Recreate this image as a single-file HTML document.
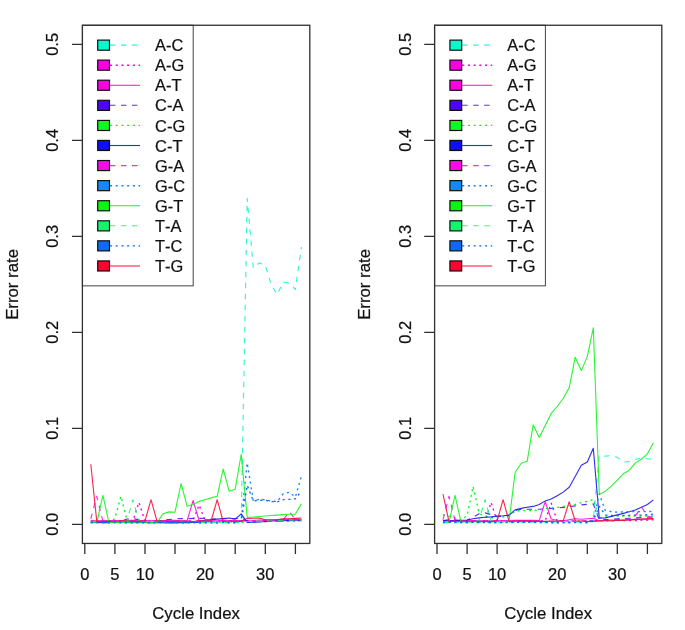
<!DOCTYPE html>
<html lang="en">
<head>
<meta charset="utf-8">
<title>Error rate by cycle index</title>
<style>html,body{margin:0;padding:0;background:#fff}svg{display:block;will-change:transform}</style>
</head>
<body>
<svg width="685" height="630" viewBox="0 0 685 630" font-family="Liberation Sans, Arial, Helvetica, sans-serif" font-size="16.5" fill="#111"><style>text{stroke:#111;stroke-width:.22px;font-kerning:none}</style>
<rect x="0" y="0" width="685" height="630" fill="#fff"/>
<g id="panel1">
<g fill="none" stroke-linejoin="round">
<polyline points="90.8,522.4 96.8,522.5 102.9,522.2 108.9,522.6 114.9,522.2 120.9,522.4 126.9,522.6 132.9,522.3 138.9,522.6 145.0,522.3 151.0,522.6 157.0,522.5 163.0,522.3 169.0,522.0 175.0,522.5 181.1,522.5 187.1,522.2 193.1,522.0 199.1,522.2 205.1,522.3 211.1,521.9 217.2,522.6 223.2,522.0 229.2,522.4 235.2,522.5 241.2,522.5 247.2,198.4 253.3,268.0 259.3,262.9 265.3,265.1 271.3,285.1 277.3,294.4 283.3,281.9 289.3,283.2 295.4,289.4 301.4,247.0" stroke="#0FF5CC" stroke-width="1.1" stroke-opacity="0.88" stroke-dasharray="5.4 5.6"/>
<polyline points="90.8,521.2 96.8,520.9 102.9,521.3 108.9,521.1 114.9,521.0 120.9,521.2 126.9,521.1 132.9,521.1 138.9,502.3 145.0,521.1 151.0,521.3 157.0,521.0 163.0,521.2 169.0,521.2 175.0,521.1 181.1,521.1 187.1,521.3 193.1,520.6 199.1,505.0 205.1,520.7 211.1,521.3 217.2,521.1 223.2,521.1 229.2,520.9 235.2,521.0 241.2,521.3 247.2,520.8 253.3,521.2 259.3,520.9 265.3,520.5 271.3,520.8 277.3,520.4 283.3,520.6 289.3,520.0 295.4,519.8 301.4,519.8" stroke="#FA00E1" stroke-width="1.35" stroke-dasharray="2.1 3.6"/>
<polyline points="90.8,520.4 96.8,520.8 102.9,520.5 108.9,520.6 114.9,520.6 120.9,520.7 126.9,520.4 132.9,520.3 138.9,520.7 145.0,520.5 151.0,520.9 157.0,520.5 163.0,520.5 169.0,520.3 175.0,520.4 181.1,520.8 187.1,520.7 193.1,500.5 199.1,520.5 205.1,521.0 211.1,520.7 217.2,520.9 223.2,520.9 229.2,520.9 235.2,520.5 241.2,520.9 247.2,520.8 253.3,520.5 259.3,520.0 265.3,520.4 271.3,520.0 277.3,519.8 283.3,519.4 289.3,519.2 295.4,519.0 301.4,519.3" stroke="#FF00DC" stroke-width="1.1" stroke-opacity="0.88"/>
<polyline points="90.8,521.9 96.8,522.0 102.9,521.6 108.9,521.6 114.9,522.1 120.9,521.0 126.9,519.1 132.9,518.6 138.9,519.9 145.0,521.8 151.0,522.0 157.0,522.2 163.0,519.9 169.0,519.5 175.0,518.9 181.1,518.6 187.1,518.8 193.1,518.4 199.1,518.4 205.1,518.3 211.1,519.2 217.2,518.6 223.2,518.7 229.2,518.7 235.2,518.7 241.2,518.0 247.2,520.9 253.3,522.0 259.3,521.5 265.3,521.7 271.3,521.5 277.3,521.2 283.3,521.1 289.3,520.8 295.4,520.8 301.4,520.7" stroke="#4A05FA" stroke-width="1.1" stroke-opacity="0.88" stroke-dasharray="5.4 5.6"/>
<polyline points="90.8,522.4 96.8,522.4 102.9,522.3 108.9,522.5 114.9,518.7 120.9,496.2 126.9,519.8 132.9,522.4 138.9,522.3 145.0,522.3 151.0,522.3 157.0,522.4 163.0,521.9 169.0,521.8 175.0,522.2 181.1,522.2 187.1,522.5 193.1,522.4 199.1,522.3 205.1,522.3 211.1,522.0 217.2,522.4 223.2,522.5 229.2,521.9 235.2,522.2 241.2,522.4 247.2,522.1 253.3,522.3 259.3,521.9 265.3,521.4 271.3,521.3 277.3,521.3 283.3,521.4 289.3,521.2 295.4,521.2 301.4,520.6" stroke="#0AFA23" stroke-width="1.35" stroke-dasharray="2.1 3.6"/>
<polyline points="90.8,522.5 96.8,522.4 102.9,522.7 108.9,522.7 114.9,522.3 120.9,522.2 126.9,522.3 132.9,522.4 138.9,522.3 145.0,522.4 151.0,522.7 157.0,522.5 163.0,522.7 169.0,522.9 175.0,522.9 181.1,522.7 187.1,522.7 193.1,522.4 199.1,522.2 205.1,519.9 211.1,519.6 217.2,519.1 223.2,518.6 229.2,518.0 235.2,519.1 241.2,513.9 247.2,522.4 253.3,522.2 259.3,522.0 265.3,521.5 271.3,521.0 277.3,520.8 283.3,520.8 289.3,520.4 295.4,520.1 301.4,520.1" stroke="#0F0FF5" stroke-width="1.1" stroke-opacity="0.88"/>
<polyline points="90.8,518.8 96.8,496.2 102.9,521.5 108.9,520.6 114.9,520.7 120.9,520.8 126.9,521.0 132.9,520.6 138.9,520.9 145.0,520.6 151.0,520.5 157.0,520.9 163.0,520.9 169.0,520.5 175.0,520.7 181.1,521.1 187.1,521.1 193.1,521.1 199.1,520.6 205.1,520.6 211.1,521.1 217.2,520.6 223.2,520.5 229.2,520.7 235.2,520.9 241.2,520.8 247.2,521.1 253.3,521.0 259.3,520.3 265.3,520.4 271.3,520.4 277.3,520.0 283.3,519.9 289.3,511.5 295.4,519.6 301.4,519.6" stroke="#FA0AE6" stroke-width="1.1" stroke-opacity="0.88" stroke-dasharray="5.4 5.6"/>
<polyline points="90.8,522.9 96.8,522.9 102.9,522.9 108.9,522.9 114.9,522.7 120.9,522.9 126.9,522.8 132.9,523.0 138.9,522.5 145.0,522.8 151.0,522.8 157.0,522.7 163.0,522.5 169.0,522.8 175.0,522.5 181.1,522.7 187.1,522.7 193.1,522.7 199.1,523.1 205.1,522.8 211.1,523.0 217.2,523.1 223.2,522.5 229.2,523.0 235.2,522.8 241.2,520.7 247.2,462.9 253.3,500.6 259.3,499.3 265.3,499.7 271.3,501.1 277.3,501.4 283.3,493.6 289.3,492.3 295.4,497.0 301.4,476.0" stroke="#1487FA" stroke-width="1.35" stroke-dasharray="2.1 3.6"/>
<polyline points="90.8,522.5 96.8,522.7 102.9,495.3 108.9,522.5 114.9,522.5 120.9,522.4 126.9,522.8 132.9,522.5 138.9,522.7 145.0,522.7 151.0,522.4 157.0,522.6 163.0,513.7 169.0,511.9 175.0,512.2 181.1,483.5 187.1,506.3 193.1,504.5 199.1,501.4 205.1,499.7 211.1,497.9 217.2,496.2 223.2,469.0 229.2,491.3 235.2,489.2 241.2,454.4 247.2,517.2 253.3,517.0 259.3,516.5 265.3,516.0 271.3,515.5 277.3,515.1 283.3,514.6 289.3,514.3 295.4,514.1 301.4,503.7" stroke="#0AF514" stroke-width="1.1" stroke-opacity="0.88"/>
<polyline points="90.8,521.6 96.8,521.4 102.9,521.3 108.9,521.6 114.9,521.5 120.9,521.6 126.9,520.8 132.9,499.7 138.9,521.7 145.0,521.6 151.0,521.6 157.0,521.6 163.0,521.3 169.0,521.5 175.0,521.3 181.1,521.3 187.1,521.8 193.1,521.6 199.1,521.3 205.1,521.4 211.1,521.8 217.2,521.9 223.2,521.6 229.2,521.9 235.2,521.8 241.2,521.9 247.2,521.5 253.3,521.2 259.3,521.0 265.3,521.3 271.3,520.8 277.3,520.6 283.3,520.8 289.3,520.1 295.4,519.9 301.4,520.2" stroke="#14F56E" stroke-width="1.1" stroke-opacity="0.88" stroke-dasharray="5.4 5.6"/>
<polyline points="90.8,522.1 96.8,522.4 102.9,522.4 108.9,522.0 114.9,522.1 120.9,522.6 126.9,522.4 132.9,522.4 138.9,522.5 145.0,522.6 151.0,522.5 157.0,522.2 163.0,522.7 169.0,522.3 175.0,522.4 181.1,522.7 187.1,522.5 193.1,522.3 199.1,522.4 205.1,522.7 211.1,522.0 217.2,522.2 223.2,522.0 229.2,522.6 235.2,522.5 241.2,521.1 247.2,485.3 253.3,500.9 259.3,500.2 265.3,500.2 271.3,501.6 277.3,501.8 283.3,499.7 289.3,499.3 295.4,498.8 301.4,491.1" stroke="#0F69F5" stroke-width="1.35" stroke-dasharray="2.1 3.6"/>
<polyline points="90.8,464.3 96.8,521.6 102.9,521.4 108.9,521.5 114.9,521.3 120.9,520.9 126.9,521.0 132.9,521.4 138.9,521.4 145.0,520.9 151.0,499.7 157.0,521.2 163.0,521.1 169.0,521.5 175.0,521.5 181.1,521.1 187.1,521.3 193.1,521.5 199.1,520.9 205.1,521.1 211.1,521.0 217.2,499.7 223.2,521.5 229.2,521.0 235.2,521.5 241.2,521.0 247.2,518.4 253.3,518.3 259.3,518.1 265.3,519.8 271.3,519.8 277.3,519.5 283.3,518.9 289.3,518.7 295.4,518.4 301.4,518.0" stroke="#FA0532" stroke-width="1.1" stroke-opacity="0.88"/>
</g>
<path d="M84.8 543.45V554.0M114.9 543.45V554.0M145.0 543.45V554.0M175.0 543.45V554.0M205.1 543.45V554.0M235.2 543.45V554.0M265.3 543.45V554.0M295.4 543.45V554.0M82.4 524.3H72.0M82.4 428.3H72.0M82.4 332.3H72.0M82.4 236.4H72.0M82.4 140.4H72.0M82.4 44.4H72.0" fill="none" stroke="#303030" stroke-width="1.3"/>
<text x="84.8" y="579.6" text-anchor="middle">0</text>
<text x="114.9" y="579.6" text-anchor="middle">5</text>
<text x="145.0" y="579.6" text-anchor="middle">10</text>
<text x="205.1" y="579.6" text-anchor="middle">20</text>
<text x="265.3" y="579.6" text-anchor="middle">30</text>
<text transform="translate(58.4 524.3) rotate(-90)" text-anchor="middle">0.0</text>
<text transform="translate(58.4 428.3) rotate(-90)" text-anchor="middle">0.1</text>
<text transform="translate(58.4 332.3) rotate(-90)" text-anchor="middle">0.2</text>
<text transform="translate(58.4 236.4) rotate(-90)" text-anchor="middle">0.3</text>
<text transform="translate(58.4 140.4) rotate(-90)" text-anchor="middle">0.4</text>
<text transform="translate(58.4 44.4) rotate(-90)" text-anchor="middle">0.5</text>
<text x="196.1" y="619.2" text-anchor="middle" font-size="16.8">Cycle Index</text>
<text transform="translate(17.9 284.4) rotate(-90)" text-anchor="middle" font-size="16.8">Error rate</text>
<rect x="82.4" y="25.25" width="110.8" height="260.6" fill="#fff" stroke="#444" stroke-width="1"/>
<line x1="110.0" y1="45.1" x2="140.0" y2="45.1" stroke="#0FF5CC" stroke-width="1.1" stroke-opacity="0.88" stroke-dasharray="5.4 5.6"/>
<rect x="97.7" y="40.1" width="11.8" height="10.1" fill="#0FF5CC" stroke="#0a0a0a" stroke-width="1.15"/>
<text x="155.1" y="51.25" font-size="16.4">A-C</text>
<line x1="110.0" y1="65.2" x2="140.0" y2="65.2" stroke="#FA00E1" stroke-width="1.35" stroke-dasharray="2.1 3.6"/>
<rect x="97.7" y="60.1" width="11.8" height="10.1" fill="#FA00E1" stroke="#0a0a0a" stroke-width="1.15"/>
<text x="155.1" y="71.33" font-size="16.4">A-G</text>
<line x1="110.0" y1="85.3" x2="140.0" y2="85.3" stroke="#FF00DC" stroke-width="1.1" stroke-opacity="0.88"/>
<rect x="97.7" y="80.2" width="11.8" height="10.1" fill="#FF00DC" stroke="#0a0a0a" stroke-width="1.15"/>
<text x="155.1" y="91.41" font-size="16.4">A-T</text>
<line x1="110.0" y1="105.3" x2="140.0" y2="105.3" stroke="#4A05FA" stroke-width="1.1" stroke-opacity="0.88" stroke-dasharray="5.4 5.6"/>
<rect x="97.7" y="100.3" width="11.8" height="10.1" fill="#4A05FA" stroke="#0a0a0a" stroke-width="1.15"/>
<text x="155.1" y="111.49" font-size="16.4">C-A</text>
<line x1="110.0" y1="125.4" x2="140.0" y2="125.4" stroke="#0AFA23" stroke-width="1.35" stroke-dasharray="2.1 3.6"/>
<rect x="97.7" y="120.4" width="11.8" height="10.1" fill="#0AFA23" stroke="#0a0a0a" stroke-width="1.15"/>
<text x="155.1" y="131.57" font-size="16.4">C-G</text>
<line x1="110.0" y1="145.5" x2="140.0" y2="145.5" stroke="#0F0FF5" stroke-width="1.1" stroke-opacity="0.88"/>
<rect x="97.7" y="140.4" width="11.8" height="10.1" fill="#0F0FF5" stroke="#0a0a0a" stroke-width="1.15"/>
<text x="155.1" y="151.65" font-size="16.4">C-T</text>
<line x1="110.0" y1="165.6" x2="140.0" y2="165.6" stroke="#FA0AE6" stroke-width="1.1" stroke-opacity="0.88" stroke-dasharray="5.4 5.6"/>
<rect x="97.7" y="160.5" width="11.8" height="10.1" fill="#FA0AE6" stroke="#0a0a0a" stroke-width="1.15"/>
<text x="155.1" y="171.73" font-size="16.4">G-A</text>
<line x1="110.0" y1="185.7" x2="140.0" y2="185.7" stroke="#1487FA" stroke-width="1.35" stroke-dasharray="2.1 3.6"/>
<rect x="97.7" y="180.6" width="11.8" height="10.1" fill="#1487FA" stroke="#0a0a0a" stroke-width="1.15"/>
<text x="155.1" y="191.81" font-size="16.4">G-C</text>
<line x1="110.0" y1="205.7" x2="140.0" y2="205.7" stroke="#0AF514" stroke-width="1.1" stroke-opacity="0.88"/>
<rect x="97.7" y="200.7" width="11.8" height="10.1" fill="#0AF514" stroke="#0a0a0a" stroke-width="1.15"/>
<text x="155.1" y="211.89" font-size="16.4">G-T</text>
<line x1="110.0" y1="225.8" x2="140.0" y2="225.8" stroke="#14F56E" stroke-width="1.1" stroke-opacity="0.88" stroke-dasharray="5.4 5.6"/>
<rect x="97.7" y="220.8" width="11.8" height="10.1" fill="#14F56E" stroke="#0a0a0a" stroke-width="1.15"/>
<text x="155.1" y="231.97" font-size="16.4">T-A</text>
<line x1="110.0" y1="245.9" x2="140.0" y2="245.9" stroke="#0F69F5" stroke-width="1.35" stroke-dasharray="2.1 3.6"/>
<rect x="97.7" y="240.8" width="11.8" height="10.1" fill="#0F69F5" stroke="#0a0a0a" stroke-width="1.15"/>
<text x="155.1" y="252.05" font-size="16.4">T-C</text>
<line x1="110.0" y1="266.0" x2="140.0" y2="266.0" stroke="#FA0532" stroke-width="1.1" stroke-opacity="0.88"/>
<rect x="97.7" y="260.9" width="11.8" height="10.1" fill="#FA0532" stroke="#0a0a0a" stroke-width="1.15"/>
<text x="155.1" y="272.13" font-size="16.4">T-G</text>
<rect x="82.4" y="25.25" width="227.4" height="518.2" fill="none" stroke="#303030" stroke-width="1.3"/>
</g>
<g id="panel2">
<g fill="none" stroke-linejoin="round">
<polyline points="443.0,522.3 449.0,522.2 455.0,522.1 461.0,522.1 467.1,521.8 473.1,522.1 479.1,522.0 485.1,522.2 491.1,522.1 497.1,522.3 503.1,522.1 509.1,522.3 515.1,521.8 521.2,521.9 527.2,522.2 533.2,522.0 539.2,521.7 545.2,522.2 551.2,521.8 557.2,522.0 563.2,522.0 569.2,521.8 575.2,522.1 581.3,522.0 587.3,521.9 593.3,519.5 599.3,455.6 605.3,456.1 611.3,455.6 617.3,457.4 623.3,462.0 629.3,461.6 635.4,459.2 641.4,458.4 647.4,458.8 653.4,459.4" stroke="#0FF5CC" stroke-width="1.1" stroke-opacity="0.88" stroke-dasharray="5.4 5.6"/>
<polyline points="443.0,521.1 449.0,520.8 455.0,520.9 461.0,520.9 467.1,521.1 473.1,521.1 479.1,521.3 485.1,521.1 491.1,502.3 497.1,521.1 503.1,520.9 509.1,521.2 515.1,521.2 521.2,521.3 527.2,520.8 533.2,520.8 539.2,520.9 545.2,521.0 551.2,503.1 557.2,521.0 563.2,521.2 569.2,521.0 575.2,521.3 581.3,521.1 587.3,521.2 593.3,520.7 599.3,520.7 605.3,520.9 611.3,520.9 617.3,520.3 623.3,520.6 629.3,520.5 635.4,520.6 641.4,520.2 647.4,520.0 653.4,519.9" stroke="#FA00E1" stroke-width="1.35" stroke-dasharray="2.1 3.6"/>
<polyline points="443.0,520.7 449.0,520.5 455.0,520.9 461.0,520.7 467.1,520.8 473.1,520.6 479.1,520.8 485.1,520.9 491.1,520.7 497.1,520.7 503.1,520.5 509.1,520.5 515.1,520.4 521.2,520.4 527.2,520.4 533.2,520.3 539.2,520.6 545.2,501.7 551.2,519.0 557.2,520.5 563.2,520.8 569.2,519.7 575.2,518.8 581.3,519.2 587.3,518.7 593.3,518.2 599.3,520.7 605.3,520.2 611.3,520.0 617.3,520.2 623.3,519.8 629.3,519.6 635.4,519.2 641.4,519.1 647.4,518.9 653.4,518.9" stroke="#FF00DC" stroke-width="1.1" stroke-opacity="0.88"/>
<polyline points="443.0,520.6 449.0,519.7 455.0,519.7 461.0,521.0 467.1,520.2 473.1,517.2 479.1,513.7 485.1,512.9 491.1,514.6 497.1,516.0 503.1,516.5 509.1,515.1 515.1,510.3 521.2,509.5 527.2,509.3 533.2,509.3 539.2,509.3 545.2,509.1 551.2,508.5 557.2,508.0 563.2,507.4 569.2,506.7 575.2,505.9 581.3,504.9 587.3,504.3 593.3,503.9 599.3,520.1 605.3,519.6 611.3,519.5 617.3,518.7 623.3,518.6 629.3,518.2 635.4,517.9 641.4,517.5 647.4,517.3 653.4,517.0" stroke="#4A05FA" stroke-width="1.1" stroke-opacity="0.88" stroke-dasharray="5.4 5.6"/>
<polyline points="443.0,514.6 449.0,516.3 455.0,518.0 461.0,520.2 467.1,515.5 473.1,486.3 479.1,513.7 485.1,516.0 491.1,517.7 497.1,517.8 503.1,517.0 509.1,516.0 515.1,511.2 521.2,510.6 527.2,510.6 533.2,510.6 539.2,510.3 545.2,508.5 551.2,507.9 557.2,507.4 563.2,506.4 569.2,505.8 575.2,504.5 581.3,502.6 587.3,501.3 593.3,499.4 599.3,517.9 605.3,516.0 611.3,516.0 617.3,516.0 623.3,516.0 629.3,516.0 635.4,516.0 641.4,516.0 647.4,516.0 653.4,516.0" stroke="#0AFA23" stroke-width="1.35" stroke-dasharray="2.1 3.6"/>
<polyline points="443.0,520.8 449.0,520.7 455.0,520.6 461.0,520.2 467.1,520.0 473.1,518.7 479.1,517.9 485.1,517.2 491.1,516.9 497.1,516.3 503.1,515.8 509.1,515.1 515.1,509.9 521.2,508.4 527.2,507.2 533.2,506.4 539.2,504.5 545.2,500.9 551.2,498.9 557.2,495.8 563.2,492.1 569.2,487.2 575.2,476.6 581.3,465.3 587.3,462.0 593.3,448.3 599.3,518.3 605.3,517.9 611.3,516.4 617.3,514.9 623.3,513.4 629.3,511.8 635.4,510.0 641.4,507.3 647.4,504.5 653.4,499.9" stroke="#0F0FF5" stroke-width="1.1" stroke-opacity="0.88"/>
<polyline points="443.0,519.7 449.0,496.2 455.0,520.5 461.0,520.8 467.1,520.9 473.1,520.8 479.1,520.7 485.1,520.6 491.1,520.7 497.1,520.7 503.1,521.1 509.1,521.1 515.1,521.0 521.2,520.7 527.2,521.0 533.2,520.8 539.2,521.2 545.2,521.1 551.2,521.0 557.2,520.7 563.2,520.7 569.2,520.7 575.2,521.0 581.3,520.8 587.3,520.9 593.3,520.9 599.3,521.1 605.3,520.2 611.3,520.4 617.3,519.5 623.3,519.3 629.3,519.6 635.4,516.0 641.4,506.7 647.4,516.0 653.4,518.0" stroke="#FA0AE6" stroke-width="1.1" stroke-opacity="0.88" stroke-dasharray="5.4 5.6"/>
<polyline points="443.0,522.3 449.0,522.2 455.0,522.6 461.0,522.7 467.1,522.8 473.1,522.3 479.1,522.8 485.1,522.5 491.1,522.8 497.1,522.5 503.1,522.3 509.1,522.8 515.1,522.3 521.2,522.5 527.2,522.3 533.2,522.4 539.2,522.7 545.2,522.3 551.2,522.6 557.2,522.9 563.2,522.9 569.2,522.6 575.2,522.6 581.3,522.7 587.3,522.8 593.3,520.0 599.3,494.0 605.3,510.4 611.3,511.6 617.3,512.2 623.3,511.8 629.3,511.6 635.4,511.6 641.4,511.6 647.4,511.6 653.4,511.2" stroke="#1487FA" stroke-width="1.35" stroke-dasharray="2.1 3.6"/>
<polyline points="443.0,522.9 449.0,522.5 455.0,495.3 461.0,522.1 467.1,521.6 473.1,521.6 479.1,522.0 485.1,521.5 491.1,521.6 497.1,521.5 503.1,521.9 509.1,520.9 515.1,472.5 521.2,463.3 527.2,461.3 533.2,424.7 539.2,437.5 545.2,425.4 551.2,413.4 557.2,406.5 563.2,398.5 569.2,387.6 575.2,357.2 581.3,370.6 587.3,356.6 593.3,327.8 599.3,494.4 605.3,491.2 611.3,486.1 617.3,480.2 623.3,473.8 629.3,470.2 635.4,462.9 641.4,459.2 647.4,453.8 653.4,442.8" stroke="#0AF514" stroke-width="1.1" stroke-opacity="0.88"/>
<polyline points="443.0,521.7 449.0,521.3 455.0,521.5 461.0,521.7 467.1,521.6 473.1,521.7 479.1,520.2 485.1,499.7 491.1,521.1 497.1,521.4 503.1,521.7 509.1,521.3 515.1,521.8 521.2,521.8 527.2,521.6 533.2,521.8 539.2,521.7 545.2,521.3 551.2,521.3 557.2,521.4 563.2,521.5 569.2,521.3 575.2,521.3 581.3,521.6 587.3,521.4 593.3,521.9 599.3,521.4 605.3,521.3 611.3,520.8 617.3,520.6 623.3,520.5 629.3,520.4 635.4,519.5 641.4,519.8 647.4,519.2 653.4,519.0" stroke="#14F56E" stroke-width="1.1" stroke-opacity="0.88" stroke-dasharray="5.4 5.6"/>
<polyline points="443.0,522.4 449.0,522.1 455.0,521.9 461.0,522.4 467.1,522.2 473.1,522.4 479.1,522.2 485.1,522.3 491.1,522.5 497.1,522.5 503.1,522.5 509.1,522.0 515.1,522.3 521.2,522.5 527.2,522.0 533.2,521.9 539.2,522.3 545.2,522.5 551.2,522.5 557.2,522.5 563.2,522.4 569.2,522.5 575.2,522.4 581.3,522.4 587.3,522.2 593.3,520.6 599.3,506.4 605.3,515.1 611.3,515.3 617.3,515.3 623.3,515.3 629.3,515.3 635.4,515.1 641.4,515.1 647.4,514.6 653.4,514.1" stroke="#0F69F5" stroke-width="1.35" stroke-dasharray="2.1 3.6"/>
<polyline points="443.0,494.1 449.0,521.6 455.0,521.3 461.0,521.3 467.1,521.2 473.1,521.3 479.1,521.3 485.1,521.5 491.1,521.4 497.1,520.9 503.1,499.7 509.1,521.5 515.1,521.2 521.2,521.1 527.2,521.0 533.2,521.4 539.2,521.4 545.2,521.4 551.2,521.3 557.2,521.2 563.2,520.9 569.2,501.7 575.2,521.0 581.3,521.0 587.3,521.5 593.3,521.5 599.3,520.7 605.3,520.7 611.3,520.7 617.3,520.4 623.3,520.5 629.3,520.0 635.4,519.4 641.4,519.2 647.4,518.9 653.4,518.6" stroke="#FA0532" stroke-width="1.1" stroke-opacity="0.88"/>
</g>
<path d="M437.0 543.45V554.0M467.1 543.45V554.0M497.1 543.45V554.0M527.2 543.45V554.0M557.2 543.45V554.0M587.3 543.45V554.0M617.3 543.45V554.0M647.4 543.45V554.0M434.6 524.3H424.2M434.6 428.3H424.2M434.6 332.3H424.2M434.6 236.4H424.2M434.6 140.4H424.2M434.6 44.4H424.2" fill="none" stroke="#303030" stroke-width="1.3"/>
<text x="437.0" y="579.6" text-anchor="middle">0</text>
<text x="467.1" y="579.6" text-anchor="middle">5</text>
<text x="497.1" y="579.6" text-anchor="middle">10</text>
<text x="557.2" y="579.6" text-anchor="middle">20</text>
<text x="617.3" y="579.6" text-anchor="middle">30</text>
<text transform="translate(410.6 524.3) rotate(-90)" text-anchor="middle">0.0</text>
<text transform="translate(410.6 428.3) rotate(-90)" text-anchor="middle">0.1</text>
<text transform="translate(410.6 332.3) rotate(-90)" text-anchor="middle">0.2</text>
<text transform="translate(410.6 236.4) rotate(-90)" text-anchor="middle">0.3</text>
<text transform="translate(410.6 140.4) rotate(-90)" text-anchor="middle">0.4</text>
<text transform="translate(410.6 44.4) rotate(-90)" text-anchor="middle">0.5</text>
<text x="548.2" y="619.2" text-anchor="middle" font-size="16.8">Cycle Index</text>
<text transform="translate(370.1 284.4) rotate(-90)" text-anchor="middle" font-size="16.8">Error rate</text>
<rect x="434.6" y="25.25" width="110.8" height="260.6" fill="#fff" stroke="#444" stroke-width="1"/>
<line x1="462.2" y1="45.1" x2="492.2" y2="45.1" stroke="#0FF5CC" stroke-width="1.1" stroke-opacity="0.88" stroke-dasharray="5.4 5.6"/>
<rect x="449.9" y="40.1" width="11.8" height="10.1" fill="#0FF5CC" stroke="#0a0a0a" stroke-width="1.15"/>
<text x="507.3" y="51.25" font-size="16.4">A-C</text>
<line x1="462.2" y1="65.2" x2="492.2" y2="65.2" stroke="#FA00E1" stroke-width="1.35" stroke-dasharray="2.1 3.6"/>
<rect x="449.9" y="60.1" width="11.8" height="10.1" fill="#FA00E1" stroke="#0a0a0a" stroke-width="1.15"/>
<text x="507.3" y="71.33" font-size="16.4">A-G</text>
<line x1="462.2" y1="85.3" x2="492.2" y2="85.3" stroke="#FF00DC" stroke-width="1.1" stroke-opacity="0.88"/>
<rect x="449.9" y="80.2" width="11.8" height="10.1" fill="#FF00DC" stroke="#0a0a0a" stroke-width="1.15"/>
<text x="507.3" y="91.41" font-size="16.4">A-T</text>
<line x1="462.2" y1="105.3" x2="492.2" y2="105.3" stroke="#4A05FA" stroke-width="1.1" stroke-opacity="0.88" stroke-dasharray="5.4 5.6"/>
<rect x="449.9" y="100.3" width="11.8" height="10.1" fill="#4A05FA" stroke="#0a0a0a" stroke-width="1.15"/>
<text x="507.3" y="111.49" font-size="16.4">C-A</text>
<line x1="462.2" y1="125.4" x2="492.2" y2="125.4" stroke="#0AFA23" stroke-width="1.35" stroke-dasharray="2.1 3.6"/>
<rect x="449.9" y="120.4" width="11.8" height="10.1" fill="#0AFA23" stroke="#0a0a0a" stroke-width="1.15"/>
<text x="507.3" y="131.57" font-size="16.4">C-G</text>
<line x1="462.2" y1="145.5" x2="492.2" y2="145.5" stroke="#0F0FF5" stroke-width="1.1" stroke-opacity="0.88"/>
<rect x="449.9" y="140.4" width="11.8" height="10.1" fill="#0F0FF5" stroke="#0a0a0a" stroke-width="1.15"/>
<text x="507.3" y="151.65" font-size="16.4">C-T</text>
<line x1="462.2" y1="165.6" x2="492.2" y2="165.6" stroke="#FA0AE6" stroke-width="1.1" stroke-opacity="0.88" stroke-dasharray="5.4 5.6"/>
<rect x="449.9" y="160.5" width="11.8" height="10.1" fill="#FA0AE6" stroke="#0a0a0a" stroke-width="1.15"/>
<text x="507.3" y="171.73" font-size="16.4">G-A</text>
<line x1="462.2" y1="185.7" x2="492.2" y2="185.7" stroke="#1487FA" stroke-width="1.35" stroke-dasharray="2.1 3.6"/>
<rect x="449.9" y="180.6" width="11.8" height="10.1" fill="#1487FA" stroke="#0a0a0a" stroke-width="1.15"/>
<text x="507.3" y="191.81" font-size="16.4">G-C</text>
<line x1="462.2" y1="205.7" x2="492.2" y2="205.7" stroke="#0AF514" stroke-width="1.1" stroke-opacity="0.88"/>
<rect x="449.9" y="200.7" width="11.8" height="10.1" fill="#0AF514" stroke="#0a0a0a" stroke-width="1.15"/>
<text x="507.3" y="211.89" font-size="16.4">G-T</text>
<line x1="462.2" y1="225.8" x2="492.2" y2="225.8" stroke="#14F56E" stroke-width="1.1" stroke-opacity="0.88" stroke-dasharray="5.4 5.6"/>
<rect x="449.9" y="220.8" width="11.8" height="10.1" fill="#14F56E" stroke="#0a0a0a" stroke-width="1.15"/>
<text x="507.3" y="231.97" font-size="16.4">T-A</text>
<line x1="462.2" y1="245.9" x2="492.2" y2="245.9" stroke="#0F69F5" stroke-width="1.35" stroke-dasharray="2.1 3.6"/>
<rect x="449.9" y="240.8" width="11.8" height="10.1" fill="#0F69F5" stroke="#0a0a0a" stroke-width="1.15"/>
<text x="507.3" y="252.05" font-size="16.4">T-C</text>
<line x1="462.2" y1="266.0" x2="492.2" y2="266.0" stroke="#FA0532" stroke-width="1.1" stroke-opacity="0.88"/>
<rect x="449.9" y="260.9" width="11.8" height="10.1" fill="#FA0532" stroke="#0a0a0a" stroke-width="1.15"/>
<text x="507.3" y="272.13" font-size="16.4">T-G</text>
<rect x="434.6" y="25.25" width="227.2" height="518.2" fill="none" stroke="#303030" stroke-width="1.3"/>
</g>
</svg>
</body>
</html>
